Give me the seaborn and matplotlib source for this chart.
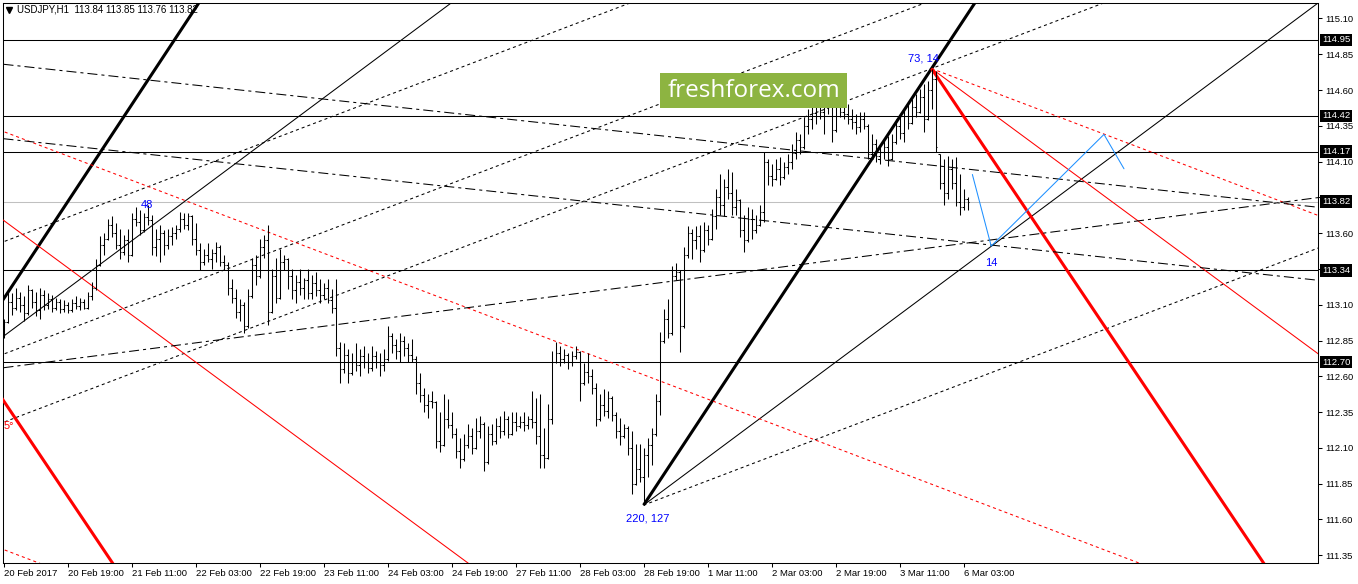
import numpy as np
import pandas as pd
import seaborn as sns
import matplotlib.pyplot as plt
import matplotlib.transforms as mtransforms
from matplotlib.patches import Rectangle

sns.set_style("white")
plt.rcParams['font.family'] = ['Liberation Sans', 'DejaVu Sans']
plt.rcParams['lines.scale_dashes'] = False

symbol = "USDJPY,H1"

# hourly bars, 20 Feb 2017 03:00 .. 6 Mar 2017 04:00 (one row = 10 bars)
bar_open = [
    112.90, 112.98, 113.12, 113.08, 113.15, 113.10, 113.04, 113.20, 113.12, 113.06,
    113.17, 113.10, 113.14, 113.08, 113.12, 113.07, 113.10, 113.06, 113.11, 113.09,
    113.12, 113.08, 113.16, 113.22, 113.38, 113.52, 113.56, 113.66, 113.60, 113.52,
    113.47, 113.55, 113.45, 113.70, 113.68, 113.62, 113.71, 113.69, 113.50, 113.56,
    113.60, 113.52, 113.58, 113.60, 113.63, 113.70, 113.66, 113.72, 113.56, 113.48,
    113.40, 113.45, 113.42, 113.46, 113.50, 113.40, 113.38, 113.22, 113.15, 113.05,
    113.10, 112.95, 113.16, 113.38, 113.30, 113.50, 113.55, 113.05, 113.30, 113.15,
    113.40, 113.42, 113.30, 113.20, 113.26, 113.22, 113.27, 113.18, 113.25, 113.20,
    113.17, 113.22, 113.13, 113.08, 112.80, 112.65, 112.75, 112.62, 112.70, 112.68,
    112.74, 112.70, 112.66, 112.74, 112.70, 112.68, 112.72, 112.88, 112.82, 112.78,
    112.85, 112.80, 112.75, 112.72, 112.55, 112.47, 112.40, 112.43, 112.42, 112.15,
    112.12, 112.30, 112.26, 112.20, 112.08, 112.02, 112.12, 112.18, 112.10, 112.22,
    112.27, 112.00, 112.20, 112.15, 112.25, 112.22, 112.30, 112.20, 112.28, 112.25,
    112.28, 112.26, 112.30, 112.28, 112.18, 112.05, 112.03, 112.30, 112.70, 112.76,
    112.72, 112.75, 112.70, 112.74, 112.77, 112.55, 112.63, 112.60, 112.52, 112.30,
    112.40, 112.36, 112.45, 112.33, 112.22, 112.18, 112.24, 112.10, 111.85, 111.95,
    111.90, 112.05, 112.12, 112.20, 112.43, 112.85, 113.00, 112.90, 113.30, 113.33,
    112.95, 113.45, 113.60, 113.55, 113.58, 113.48, 113.62, 113.56, 113.72, 113.85,
    113.80, 113.92, 113.88, 113.78, 113.83, 113.62, 113.55, 113.70, 113.62, 113.66,
    113.75, 114.10, 114.00, 113.98, 114.05, 113.99, 114.06, 114.10, 114.16, 114.25,
    114.20, 114.35, 114.40, 114.44, 114.50, 114.45, 114.48, 114.52, 114.32, 114.48,
    114.45, 114.43, 114.40, 114.38, 114.34, 114.40, 114.35, 114.15, 114.22, 114.14,
    114.17, 114.20, 114.12, 114.24, 114.35, 114.30, 114.42, 114.37, 114.48, 114.45,
    114.55, 114.40, 114.60, 114.68, 114.15, 113.95, 113.88, 114.05, 113.95, 113.82,
    113.78, 113.84,
]
bar_high = [
    113.00, 113.20, 113.18, 113.22, 113.19, 113.16, 113.24, 113.21, 113.19, 113.22,
    113.20, 113.18, 113.17, 113.15, 113.14, 113.13, 113.12, 113.14, 113.16, 113.15,
    113.14, 113.19, 113.26, 113.42, 113.58, 113.60, 113.70, 113.72, 113.67, 113.63,
    113.59, 113.63, 113.74, 113.78, 113.76, 113.74, 113.80, 113.73, 113.63, 113.66,
    113.62, 113.63, 113.64, 113.66, 113.75, 113.74, 113.74, 113.73, 113.67, 113.53,
    113.49, 113.53, 113.49, 113.54, 113.52, 113.45, 113.40, 113.28, 113.21, 113.14,
    113.12, 113.21, 113.43, 113.45, 113.56, 113.59, 113.66, 113.35, 113.43, 113.49,
    113.45, 113.43, 113.35, 113.31, 113.35, 113.29, 113.35, 113.31, 113.33, 113.28,
    113.25, 113.28, 113.21, 113.28, 112.84, 112.83, 112.79, 112.76, 112.83, 112.79,
    112.81, 112.76, 112.81, 112.78, 112.76, 112.79, 112.95, 112.90, 112.86, 112.90,
    112.88, 112.83, 112.86, 112.74, 112.62, 112.52, 112.48, 112.50, 112.43, 112.35,
    112.48, 112.44, 112.35, 112.24, 112.17, 112.20, 112.27, 112.24, 112.31, 112.32,
    112.28, 112.25, 112.27, 112.31, 112.32, 112.36, 112.32, 112.35, 112.35, 112.32,
    112.35, 112.32, 112.50, 112.45, 112.48, 112.24, 112.41, 112.78, 112.84, 112.81,
    112.79, 112.76, 112.78, 112.81, 112.78, 112.69, 112.76, 112.65, 112.55, 112.48,
    112.51, 112.50, 112.46, 112.35, 112.31, 112.27, 112.25, 112.22, 112.13, 112.13,
    112.10, 112.17, 112.24, 112.48, 112.91, 113.07, 113.14, 113.37, 113.39, 113.34,
    113.50, 113.65, 113.63, 113.65, 113.66, 113.68, 113.66, 113.77, 113.91, 114.01,
    113.98, 114.05, 114.03, 113.91, 113.84, 113.73, 113.78, 113.77, 113.73, 113.80,
    114.17, 114.12, 114.08, 114.12, 114.13, 114.10, 114.15, 114.22, 114.31, 114.29,
    114.41, 114.47, 114.48, 114.54, 114.55, 114.54, 114.57, 114.54, 114.55, 114.54,
    114.51, 114.50, 114.47, 114.43, 114.45, 114.45, 114.36, 114.29, 114.26, 114.22,
    114.26, 114.28, 114.29, 114.40, 114.43, 114.47, 114.50, 114.54, 114.57, 114.61,
    114.64, 114.66, 114.75, 114.73, 114.15, 114.12, 114.14, 114.12, 114.13, 114.01,
    113.91, 113.85,
]
bar_low = [
    112.87, 112.97, 113.03, 113.06, 113.05, 112.99, 113.03, 113.08, 113.02, 113.00,
    113.06, 113.07, 113.05, 113.06, 113.04, 113.05, 113.04, 113.05, 113.07, 113.06,
    113.07, 113.07, 113.13, 113.20, 113.37, 113.45, 113.55, 113.57, 113.49, 113.42,
    113.45, 113.40, 113.44, 113.65, 113.59, 113.61, 113.66, 113.45, 113.44, 113.40,
    113.45, 113.49, 113.52, 113.56, 113.61, 113.63, 113.62, 113.52, 113.45, 113.34,
    113.38, 113.40, 113.35, 113.40, 113.37, 113.34, 113.17, 113.11, 113.01, 112.99,
    112.90, 112.94, 113.15, 113.24, 113.29, 113.43, 112.96, 113.04, 113.11, 113.14,
    113.34, 113.21, 113.14, 113.11, 113.17, 113.14, 113.14, 113.14, 113.16, 113.11,
    113.14, 113.11, 113.04, 112.74, 112.55, 112.62, 112.55, 112.61, 112.64, 112.60,
    112.66, 112.62, 112.64, 112.66, 112.60, 112.64, 112.71, 112.76, 112.72, 112.70,
    112.74, 112.70, 112.70, 112.48, 112.42, 112.35, 112.31, 112.38, 112.10, 112.07,
    112.11, 112.24, 112.17, 112.03, 111.96, 112.01, 112.10, 112.06, 112.09, 112.17,
    111.94, 111.99, 112.12, 112.13, 112.17, 112.19, 112.17, 112.19, 112.22, 112.24,
    112.22, 112.23, 112.24, 112.13, 111.96, 111.96, 112.02, 112.27, 112.69, 112.67,
    112.69, 112.65, 112.67, 112.72, 112.43, 112.54, 112.55, 112.48, 112.25, 112.29,
    112.32, 112.31, 112.29, 112.17, 112.12, 112.17, 112.05, 111.78, 111.84, 111.86,
    111.70, 111.90, 111.98, 112.18, 112.33, 112.83, 112.87, 112.89, 113.27, 112.77,
    112.94, 113.43, 113.42, 113.49, 113.40, 113.47, 113.52, 113.55, 113.63, 113.73,
    113.72, 113.84, 113.73, 113.73, 113.57, 113.47, 113.54, 113.56, 113.60, 113.65,
    113.68, 113.94, 113.93, 113.97, 113.94, 113.98, 114.01, 114.05, 114.12, 114.15,
    114.19, 114.29, 114.33, 114.36, 114.40, 114.29, 114.43, 114.24, 114.31, 114.41,
    114.40, 114.36, 114.33, 114.29, 114.31, 114.33, 114.12, 114.14, 114.10, 114.08,
    114.12, 114.07, 114.11, 114.22, 114.26, 114.24, 114.33, 114.36, 114.41, 114.44,
    114.31, 114.39, 114.47, 114.17, 113.91, 113.80, 113.84, 113.91, 113.79, 113.73,
    113.76, 113.76,
]
bar_close = [
    112.98, 113.12, 113.08, 113.15, 113.10, 113.04, 113.20, 113.12, 113.06, 113.17,
    113.10, 113.14, 113.08, 113.12, 113.07, 113.10, 113.06, 113.11, 113.09, 113.12,
    113.08, 113.16, 113.22, 113.38, 113.52, 113.56, 113.66, 113.60, 113.52, 113.47,
    113.55, 113.45, 113.70, 113.68, 113.62, 113.71, 113.69, 113.50, 113.56, 113.60,
    113.52, 113.58, 113.60, 113.63, 113.70, 113.66, 113.72, 113.56, 113.48, 113.40,
    113.45, 113.42, 113.46, 113.50, 113.40, 113.38, 113.22, 113.15, 113.05, 113.10,
    112.95, 113.16, 113.38, 113.30, 113.50, 113.55, 113.05, 113.30, 113.15, 113.40,
    113.42, 113.30, 113.20, 113.26, 113.22, 113.27, 113.18, 113.25, 113.20, 113.17,
    113.22, 113.13, 113.08, 112.80, 112.65, 112.75, 112.62, 112.70, 112.68, 112.74,
    112.70, 112.66, 112.74, 112.70, 112.68, 112.72, 112.88, 112.82, 112.78, 112.85,
    112.80, 112.75, 112.72, 112.55, 112.47, 112.40, 112.43, 112.42, 112.15, 112.12,
    112.30, 112.26, 112.20, 112.08, 112.02, 112.12, 112.18, 112.10, 112.22, 112.27,
    112.00, 112.20, 112.15, 112.25, 112.22, 112.30, 112.20, 112.28, 112.25, 112.28,
    112.26, 112.30, 112.28, 112.18, 112.05, 112.03, 112.30, 112.70, 112.76, 112.72,
    112.75, 112.70, 112.74, 112.77, 112.55, 112.63, 112.60, 112.52, 112.30, 112.40,
    112.36, 112.45, 112.33, 112.22, 112.18, 112.24, 112.10, 111.85, 111.95, 111.90,
    112.05, 112.12, 112.20, 112.43, 112.85, 113.00, 112.90, 113.30, 113.33, 112.95,
    113.45, 113.60, 113.55, 113.58, 113.48, 113.62, 113.56, 113.72, 113.85, 113.80,
    113.92, 113.88, 113.78, 113.83, 113.62, 113.55, 113.70, 113.62, 113.66, 113.75,
    114.10, 114.00, 113.98, 114.05, 113.99, 114.06, 114.10, 114.16, 114.25, 114.20,
    114.35, 114.40, 114.44, 114.50, 114.45, 114.48, 114.52, 114.32, 114.48, 114.45,
    114.43, 114.40, 114.38, 114.34, 114.40, 114.35, 114.15, 114.22, 114.14, 114.17,
    114.20, 114.12, 114.24, 114.35, 114.30, 114.42, 114.37, 114.48, 114.45, 114.55,
    114.40, 114.60, 114.68, 114.20, 113.95, 113.88, 114.05, 113.95, 113.82, 113.78,
    113.84, 113.82,
]

time_labels = ["20 Feb 2017", "20 Feb 19:00", "21 Feb 11:00", "22 Feb 03:00",
               "22 Feb 19:00", "23 Feb 11:00", "24 Feb 03:00", "24 Feb 19:00",
               "27 Feb 11:00", "28 Feb 03:00", "28 Feb 19:00", "1 Mar 11:00",
               "2 Mar 03:00", "2 Mar 19:00", "3 Mar 11:00", "6 Mar 03:00"]
price_ticks = [115.10, 114.85, 114.60, 114.35, 114.10, 113.85, 113.60, 113.35,
               113.10, 112.85, 112.60, 112.35, 112.10, 111.85, 111.60, 111.35]
price_levels = [114.95, 114.42, 114.17, 113.34, 112.70]

# fan anchors (bar index, price)
low_anchor = (160, 111.70)
high_anchor = (232, 114.75)
black_thick_to = (232, 114.75)
black_thin_to = (247, 113.51)
black_dot_to = (329, 113.50)
black_thick_copy = [(0, 113.14)]
black_thin_copy = [(0, 112.88)]
black_dot_copy = [(0, 113.54), (0, 112.755), (232, 114.75)]
red_thick_to = (300, 111.92)
red_thin_to = (329, 112.75)
red_dot_to = (329, 113.72)
red_thick_copy = [(0, 112.43)]
red_thin_copy = [(0, 113.69)]
red_dot_copy = [(0, 114.31), (0, 111.39)]

# dash-dot trend lines: start and end points
dashdot_start = [(0, 114.78), (0, 114.26), (0, 112.66)]
dashdot_end = [(329, 113.78), (329, 113.27), (329, 113.85)]

# projected zigzag
proj_bars = [242.2, 246.9, 275.1, 280.1]
proj_prices = [114.01, 113.51, 114.29, 114.05]

# wave labels
wave_text = ["220, 127", "73, 14", "48", "14"]
wave_bar = [161.1, 230.0, 35.9, 247.0]
wave_price = [111.61, 114.82, 113.80, 113.39]

df = pd.DataFrame({'open': bar_open, 'high': bar_high, 'low': bar_low, 'close': bar_close})
df['bar'] = np.arange(len(df))

W, H = 1358, 584
fig = plt.figure(figsize=(W / 100, H / 100), dpi=100)
ax = fig.add_axes([3 / W, 21 / H, 1315 / W, 560 / H])
ax.set_facecolor('white')

thin = 0.75
thick = 2.2
dot = (0, (2.2, 2.2))
dashdot = (0, (7.2, 2.9, 2.2, 2.9))

# horizontal levels
for lv in price_levels:
    ax.axhline(lv, color='black', lw=thin, zorder=2)
ax.axhline(df['close'].iloc[-1], color='#c0c0c0', lw=thin, zorder=1)


def ray(p0, p1, **kw):
    k = (p1[1] - p0[1]) / (p1[0] - p0[0])
    xe = 420
    ax.plot([p0[0], xe], [p0[1], p0[1] + k * (xe - p0[0])], **kw)


def copy_line(p0, p1, through, **kw):
    k = (p1[1] - p0[1]) / (p1[0] - p0[0])
    xs = np.array([-100, 420])
    ax.plot(xs, through[1] + k * (xs - through[0]), **kw)


black = dict(color='black', solid_capstyle='butt', zorder=3)
red = dict(color='#ff0000', solid_capstyle='butt', zorder=3)

ray(low_anchor, black_thick_to, lw=thick, **black)
ray(low_anchor, black_thin_to, lw=thin, **black)
ray(low_anchor, black_dot_to, lw=thin, ls=dot, **black)
for p in black_thick_copy:
    copy_line(low_anchor, black_thick_to, p, lw=thick, **black)
for p in black_thin_copy:
    copy_line(low_anchor, black_thin_to, p, lw=thin, **black)
for p in black_dot_copy:
    copy_line(low_anchor, black_dot_to, p, lw=thin, ls=dot, **black)

ray(high_anchor, red_thick_to, lw=thick, **red)
ray(high_anchor, red_thin_to, lw=thin, **red)
ray(high_anchor, red_dot_to, lw=thin, ls=dot, **red)
for p in red_thick_copy:
    copy_line(high_anchor, red_thick_to, p, lw=thick, **red)
for p in red_thin_copy:
    copy_line(high_anchor, red_thin_to, p, lw=thin, **red)
for p in red_dot_copy:
    copy_line(high_anchor, red_dot_to, p, lw=thin, ls=dot, **red)

for a, b in zip(dashdot_start, dashdot_end):
    ax.plot([a[0], b[0]], [a[1], b[1]], color='black', lw=thin, ls=dashdot, zorder=3)

# OHLC bars
ax.vlines(df['bar'], df['low'], df['high'], color='black', lw=thin, zorder=4)
ax.hlines(df['open'], df['bar'] - 0.3, df['bar'], color='black', lw=thin, zorder=4)
ax.hlines(df['close'], df['bar'], df['bar'] + 0.3, color='black', lw=thin, zorder=4)

# projection
sns.lineplot(x=proj_bars, y=proj_prices, sort=False, estimator=None,
             color='#1e90ff', lw=thin, ax=ax, zorder=5)

for t, xb, yp in zip(wave_text, wave_bar, wave_price):
    ax.text(xb, yp, t, color='#0000ff', fontsize=8, ha='center', va='center', zorder=6)
ax.text(0, 112.25, "5°", color='#ff0000', fontsize=8, ha='left', va='center', zorder=6)

# header
last = df.iloc[-1]
header = f"{symbol}  {last['open']:.2f} {last['high']:.2f} {last['low']:.2f} {last['close']:.2f}"
ax.text(14 / 1315, 1 - 7 / 560, header, transform=ax.transAxes, fontsize=7,
        ha='left', va='center', color='black', zorder=8)
ax.plot([6 / 1315], [1 - 7 / 560], marker='v', ms=4.5, color='black',
        transform=ax.transAxes, clip_on=False, zorder=8)

# logo
ax.add_patch(Rectangle(((660 - 3) / 1315, (563 - 108) / 560), 187 / 1315, 35 / 560,
                       transform=ax.transAxes, facecolor='#8db441', edgecolor='none', zorder=9))
ax.text((753.5 - 3) / 1315, (563 - 91) / 560, "freshforex.com", transform=ax.transAxes,
        family='Open Sans', fontsize=17.5, color='white', ha='center', va='center', zorder=10)

# axes
ax.set_xlim(-0.125, 328.6)
ax.set_ylim(111.296, 115.208)
ax.set_xticks(np.arange(0, len(df), 16))
ax.set_xticklabels(time_labels, ha='left')
ax.yaxis.tick_right()
ax.set_yticks(price_ticks)
# labels at 113.85 / 113.35 sit under the level boxes, as in the terminal
hidden = [113.85, 113.35]
ax.set_yticklabels(["" if v in hidden else f"{v:.2f}" for v in price_ticks])
ax.tick_params(axis='x', bottom=True, direction='out', length=2.9, width=0.75,
               pad=1.5, labelsize=6.8, colors='black')
ax.tick_params(axis='y', right=True, left=False, direction='out', length=2.9,
               width=0.75, pad=2.2, labelsize=6.8, colors='black')
for s in ax.spines.values():
    s.set_color('black')
    s.set_linewidth(0.75)

trans = mtransforms.blended_transform_factory(ax.transAxes, ax.transData)
for lv in price_levels + [df['close'].iloc[-1]]:
    ax.text(1 + 4 / 1315, lv, f"{lv:.2f}", transform=trans, fontsize=6.8, color='white',
            ha='left', va='center', clip_on=False, zorder=20,
            bbox=dict(boxstyle='square,pad=0.18', facecolor='black', edgecolor='none'))

fig.savefig('out.png', dpi=100, facecolor='white')
